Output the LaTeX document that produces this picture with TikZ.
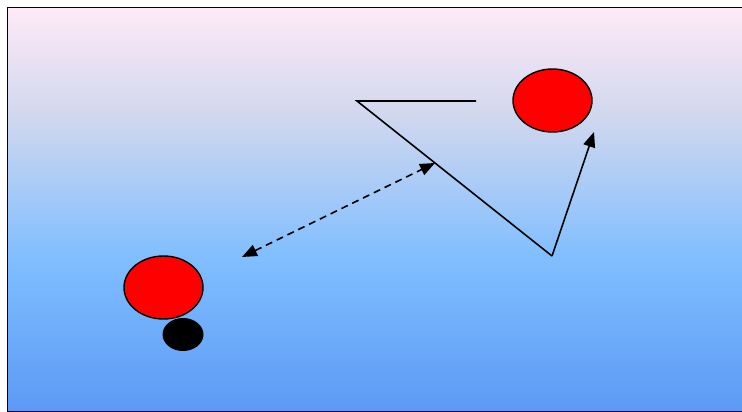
\documentclass[tikz,border=0pt]{standalone}
\usepackage{xcolor}
\usepackage{tikz}
\usetikzlibrary{shapes.geometric, arrows.meta}
\definecolor{BgTop}{RGB}{255,234,248}
\definecolor{BgHaze}{RGB}{210,216,238}
\definecolor{BgMid}{RGB}{128,190,255}
\definecolor{BgBottom}{RGB}{92,153,245}
\definecolor{BallRed}{RGB}{255,0,0}
\pgfdeclareverticalshading{bgfade}{100bp}{color(0bp)=(BgBottom); color(25bp)=(BgBottom);
  color(44bp)=(BgMid); color(62bp)=(BgHaze); color(75bp)=(BgTop); color(100bp)=(BgTop)}

\begin{document}
\begin{tikzpicture}[x=1pt, y=-1pt,
      ball/.style={ellipse, draw=black, line width=1.4pt, fill=BallRed,
                   minimum width=79pt, minimum height=63pt, inner sep=0pt},
      puck/.style={ellipse, fill=black, minimum width=41pt, minimum height=33pt, inner sep=0pt},
      trail/.style={line width=1.6pt},
      arr/.style={-{Triangle[length=15pt, width=12pt]}, line width=1.6pt},
      darr/.style={{Triangle[length=15pt, width=12pt]}-{Triangle[length=15pt, width=12pt]},
                   line width=1.6pt, dash pattern=on 7pt off 5pt}
    ]
    \useasboundingbox (0,0) rectangle (742,412);
    \clip (0,0) rectangle (742,412);
    % Background
    \shade[shading=bgfade] (7.5,7.5) rectangle (760,411.5);
    \draw[line width=1.6pt] (760,411.5) -| (7.5,7.5) -- (760,7.5);

    \node[ball] (far)  at (552.5,100.5) {};
    \node[ball] (near) at (163.5,287.5) {};
    \node[puck] (shadow) at (183,334.5) {};

    \coordinate (lineend) at (476,101);
    \coordinate (corner)  at (357,101);
    \coordinate (bounce)  at (552,256);
    \coordinate (aim)     at (594,132);
    \coordinate (gapa)    at (242,257);
    \coordinate (gapb)    at (435,163);

    % Path and arrows
    \draw[trail] (lineend) -- (corner) -- (bounce);
    \draw[arr]  (bounce) -- (aim);
    \draw[darr] (gapa) -- (gapb);
  \end{tikzpicture}
\end{document}
